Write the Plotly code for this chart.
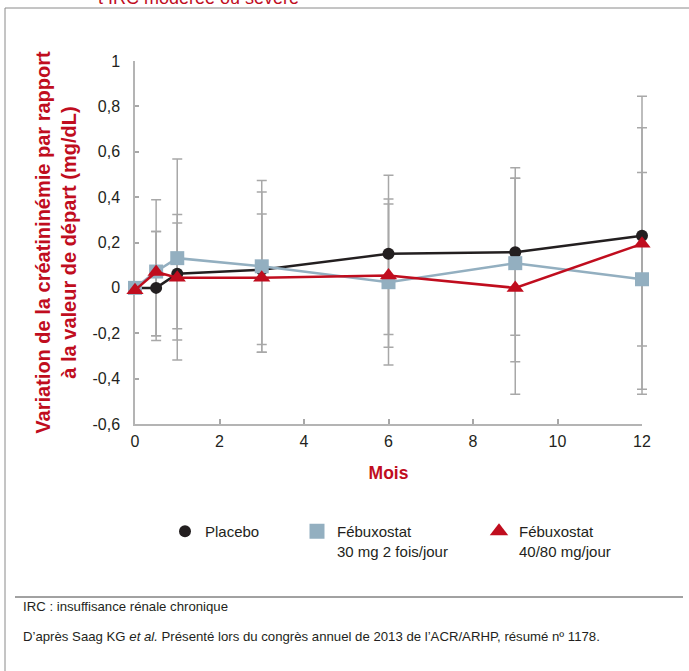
import plotly.graph_objects as go

months = [0, 0.5, 1, 3, 6, 9, 12]
placebo = [0, 0.0, 0.062, 0.08, 0.15, 0.157, 0.23]
feb30 = [0, 0.072, 0.131, 0.095, 0.025, 0.109, 0.038]
feb4080 = [-0.01, 0.07, 0.045, 0.045, 0.054, 0.0, 0.194]

# absolute error-bar limits (index 0 = baseline, no bar)
placebo_hi = [None, 0.388, 0.568, 0.473, 0.496, 0.53, 0.845]
placebo_lo = [None, -0.232, -0.318, -0.284, -0.34, -0.469, -0.469]
feb30_hi = [None, 0.248, 0.323, 0.423, 0.392, 0.483, 0.706]
feb30_lo = [None, -0.211, -0.23, -0.284, -0.262, -0.326, -0.447]
feb4080_hi = [None, 0.248, 0.286, 0.326, 0.37, 0.483, 0.508]
feb4080_lo = [None, -0.211, -0.18, -0.25, -0.206, -0.209, -0.256]

series_names = ["Placebo", "Fébuxostat<br>30 mg 2 fois/jour", "Fébuxostat<br>40/80 mg/jour"]
y_ticks = [1, 0.8, 0.6, 0.4, 0.2, 0, -0.2, -0.4, -0.6]
y_ticklabels = ["1", "0,8", "0,6", "0,4", "0,2", "0", "-0,2", "-0,4", "-0,6"]
x_ticks = [0, 2, 4, 6, 8, 10, 12]

BLACK = "#231f20"
BLUE = "#93afc0"
RED = "#c00d1e"
GRAY = "#a8a8a8"
TXT = "#231f20"
FONT = "Liberation Sans, Arial, sans-serif"

W, H = 689, 671
L, R, T, B = 135, 642, 61, 424      # plot area in pixels
PR = 667                             # right edge of paper (extra room for error bars)
D = (R - L) / (PR - L)               # fraction of paper used by main x axis
XMAX = 12


def px(xp):
    return (xp - L) / (PR - L)


def py(yp):
    return (B - yp) / (B - T)


fig = go.Figure()

series = [
    (placebo, placebo_hi, placebo_lo, BLACK, "circle", 12),
    (feb30, feb30_hi, feb30_lo, BLUE, "square", 14),
    (feb4080, feb4080_hi, feb4080_lo, RED, "triangle-up", 15),
]

# error bars first (behind); data drawn on a wider hidden x axis (same scale)
# so the bars at x=12 are not clipped by the plot area
for vals, hi, lo, col, sym, sz in series:
    xs = months[1:]
    v = vals[1:]
    up = [h - a for h, a in zip(hi[1:], v)]
    dn = [a - l for a, l in zip(v, lo[1:])]
    fig.add_trace(go.Scatter(
        x=xs, y=v, mode="markers", marker=dict(size=1, opacity=0),
        xaxis="x2", yaxis="y",
        error_y=dict(type="data", symmetric=False, array=up, arrayminus=dn,
                     color=GRAY, thickness=1.5, width=5),
        showlegend=False, hoverinfo="skip", cliponaxis=False))

for vals, hi, lo, col, sym, sz in series:
    fig.add_trace(go.Scatter(
        x=months, y=vals, mode="lines+markers", xaxis="x2", yaxis="y",
        line=dict(color=col, width=2.5),
        marker=dict(color=col, size=sz, symbol=sym),
        showlegend=False, cliponaxis=False))

legend_ids = ["legend", "legend2", "legend3"]
legend_x = [165, 297, 479]
for (vals, hi, lo, col, sym, sz), name, lid in zip(series, series_names, legend_ids):
    fig.add_trace(go.Scatter(
        x=[None], y=[None], mode="markers", name=name,
        marker=dict(color=col, size=sz + 1 if sym != "circle" else sz, symbol=sym),
        legend=lid, showlegend=True))

leg_common = dict(orientation="v", xanchor="left", yanchor="top", valign="top",
                  bgcolor="rgba(0,0,0,0)", borderwidth=0,
                  font=dict(family=FONT, size=15, color=TXT),
                  tracegroupgap=0)
layout_legends = {}
for lid, lx in zip(legend_ids, legend_x):
    layout_legends[lid] = dict(x=px(lx), y=py(515), **leg_common)

fig.update_layout(
    width=W, height=H,
    margin=dict(l=L, r=W - PR, t=T, b=H - B),
    paper_bgcolor="white", plot_bgcolor="rgba(0,0,0,0)",
    font=dict(family=FONT, color=TXT),
    showlegend=True,
    **layout_legends,
    xaxis=dict(domain=[0, D], range=[0, XMAX], tickvals=x_ticks, ticks="inside", ticklen=5,
               tickcolor=GRAY, tickwidth=1.5, showline=True, linecolor="#b4b4b4",
               linewidth=1.5, showgrid=False, zeroline=False,
               tickfont=dict(size=16, color=TXT), ticklabelstandoff=2,
               title=dict(text="<b>Mois</b>", font=dict(size=17.5, color=RED), standoff=18)),
    xaxis2=dict(domain=[0, 1], range=[0, XMAX / D], anchor="y", visible=False,
                showgrid=False, zeroline=False),
    yaxis=dict(range=[-0.6, 1], tickvals=y_ticks, ticktext=y_ticklabels,
               ticks="inside", ticklen=4, tickcolor=GRAY, tickwidth=1.5,
               showline=True, linecolor="#b4b4b4", linewidth=1.5,
               showgrid=False, zeroline=False,
               tickfont=dict(size=16, color=TXT), ticklabelstandoff=10,
               title=dict(text="<b>Variation de la créatininémie par rapport<br>à la valeur de départ (mg/dL)</b>",
                          font=dict(size=20, color=RED), standoff=10)),
)

# frame and separator
fig.add_shape(type="line", xref="paper", yref="paper", x0=px(5), x1=px(700), y0=py(8), y1=py(8),
              line=dict(color="#8a8a8a", width=1))
fig.add_shape(type="line", xref="paper", yref="paper", x0=px(5), x1=px(5), y0=py(8), y1=py(680),
              line=dict(color="#8a8a8a", width=1))
fig.add_shape(type="line", xref="paper", yref="paper", x0=px(15), x1=px(683), y0=py(597), y1=py(597),
              line=dict(color="#444444", width=1))

# cropped heading (cut off at the top edge, as in the source page)
fig.add_annotation(xref="paper", yref="paper", x=px(96), y=py(-2), xanchor="left", yanchor="middle",
                   text="t IRC modérée ou sévère", showarrow=False,
                   font=dict(size=18, color=RED, family=FONT))

fig.add_annotation(xref="paper", yref="paper", x=px(21), y=py(606), xanchor="left", yanchor="middle",
                   text="IRC : insuffisance rénale chronique", showarrow=False,
                   font=dict(size=13.2, color=TXT, family=FONT))
fig.add_annotation(xref="paper", yref="paper", x=px(21), y=py(636), xanchor="left", yanchor="middle",
                   text="D’après Saag KG <i>et al.</i> Présenté lors du congrès annuel de 2013 de l’ACR/ARHP, résumé nº 1178.",
                   showarrow=False,
                   font=dict(size=13.2, color=TXT, family=FONT))

fig.write_html("out.html", config={"displayModeBar": False},
               post_script="document.body.style.margin='0';document.body.style.overflow='hidden';")
